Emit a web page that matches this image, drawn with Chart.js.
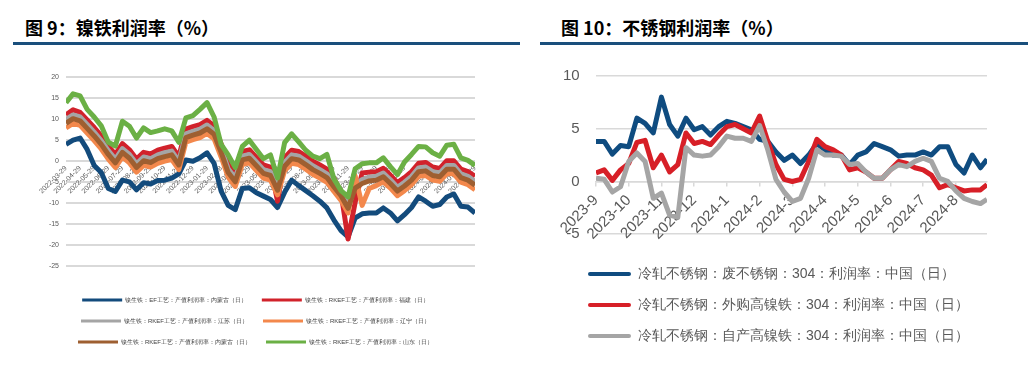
<!DOCTYPE html>
<html>
<head>
<meta charset="utf-8">
<script src="https://cdn.jsdelivr.net/npm/chart.js@4.4.1/dist/chart.umd.min.js"></script>
<style>
  body { margin: 0; width: 1028px; height: 368px; background: #fff; position: relative; overflow: hidden; font-family: "Noto Sans CJK SC", sans-serif; }
  .title { position: absolute; top: 14px; font-size: 18px; font-weight: bold; color: #000; white-space: nowrap; }
  .bar { position: absolute; top: 42px; height: 3px; background: #1a4f7c; }
  .box { position: absolute; }
</style>
</head>
<body>
<div class="title" style="left:25px">图 9：镍铁利润率（%）</div>
<div class="bar" style="left:13px;width:507px"></div>
<div class="title" style="left:561px">图 10：不锈钢利润率（%）</div>
<div class="bar" style="left:540px;width:488px"></div>
<div class="box" style="left:0;top:50px;width:510px;height:318px"><canvas id="chartNiFe"></canvas></div>
<div class="box" style="left:540px;top:55px;width:488px;height:313px"><canvas id="chartSS"></canvas></div>
<script>
// 图9 镍铁利润率 —— x 为月序号（0 = 2022-03-29），每半个月取一个值
const leftX = [0, 0.5, 1, 1.5, 2, 2.5, 3, 3.5, 4, 4.5, 5, 5.5, 6, 6.5, 7, 7.5, 8, 8.5, 9, 9.5,
  10, 10.5, 11, 11.5, 12, 12.5, 13, 13.5, 14, 14.5, 15, 15.5, 16, 16.5, 17, 17.5, 18, 18.5, 19, 19.5,
  20, 20.5, 21, 21.5, 22, 22.5, 23, 23.5, 24, 24.5, 25, 25.5, 26, 26.5, 27, 27.5, 28, 28.5, 29];
const leftLabels = ['2022-03-29', '2022-04-29', '2022-05-29', '2022-06-29', '2022-07-29', '2022-08-29',
  '2022-09-29', '2022-10-29', '2022-11-29', '2022-12-29', '2023-01-29', '2023-02-28', '2023-03-29',
  '2023-04-29', '2023-05-29', '2023-06-29', '2023-07-29', '2023-08-29', '2023-09-29', '2023-10-29',
  '2023-11-29', '2023-12-29', '2024-01-29', '2024-02-29', '2024-03-29', '2024-04-29', '2024-05-29',
  '2024-06-29', '2024-07-29', '2024-08-29'];

const efNeimenggu = [4.0, 5.0, 5.5, 2.8, -1.0, -2.7, -6.5, -7.2, -4.5, -4.9,
  -6.8, -5.1, -5.4, -4.6, -4.5, -4.0, -3.0, 0.3, 0.0, 0.8,
  2.0, -0.5, -7.1, -10.5, -11.5, -6.5, -6.3, -7.5, -8.3, -9.1,
  -11.0, -7.4, -4.5, -5.8, -7.0, -8.2, -9.5, -11.1, -14.0, -16.5,
  -18.0, -13.5, -12.5, -12.3, -12.3, -11.1, -12.3, -14.2, -12.7, -11.0,
  -8.5, -9.5, -10.7, -10.3, -8.5, -7.8, -10.7, -10.9, -12.3];
const rkefFujian = [11.0, 12.2, 11.6, 9.8, 8.0, 6.0, 3.6, 1.6, 4.2, 2.7,
  0.5, 2.1, 1.7, 2.6, 3.1, 3.5, 1.1, 7.6, 8.2, 8.7,
  9.7, 8.4, 4.1, -0.7, -2.9, 2.3, 2.7, 0.9, -0.9, -1.4,
  -9.5, 0.8, 2.6, 2.3, 1.2, 0.0, -0.9, -1.9, -4.1, -7.5,
  -18.5, -9.8, -2.8, -2.6, -2.5, -1.7, -3.3, -5.1, -3.9, -2.5,
  -0.5, -0.3, -1.4, -1.7, 0.1, 0.1, -1.9, -2.5, -3.6];
const rkefJiangsu = [9.9, 11.0, 10.5, 8.7, 6.9, 4.9, 2.5, 0.5, 3.0, 1.6,
  -0.6, 1.0, 0.6, 1.5, 2.0, 2.4, 0.0, 6.5, 7.1, 7.6,
  8.6, 7.3, 3.0, -1.8, -4.0, 1.2, 1.6, -0.2, -2.0, -2.5,
  -6.0, -0.3, 1.5, 1.2, 0.1, -1.1, -2.0, -3.0, -5.2, -7.3,
  -10.3, -5.5, -4.4, -3.8, -3.6, -2.8, -4.4, -6.2, -5.0, -3.6,
  -1.6, -1.4, -2.5, -2.8, -1.0, -1.0, -3.0, -3.6, -4.8];
const rkefLiaoning = [7.9, 9.0, 8.5, 6.7, 4.9, 2.9, 0.5, -1.5, 1.0, -0.4,
  -2.6, -1.0, -1.4, -0.5, 0.0, 0.4, -2.0, 4.5, 5.1, 5.6,
  6.6, 5.3, 1.0, -3.8, -6.0, -0.8, -0.4, -2.2, -4.0, -4.5,
  -8.0, -2.3, -0.5, -0.8, -1.9, -3.1, -4.0, -5.0, -7.2, -9.3,
  -12.3, -3.5, -10.5, -6.5, -5.8, -4.9, -6.4, -8.2, -7.0, -5.6,
  -3.6, -3.4, -4.5, -4.8, -3.0, -3.0, -5.0, -5.6, -6.8];
const rkefNeimenggu = [9.0, 10.1, 9.6, 7.8, 6.0, 4.0, 1.6, -0.4, 2.1, 0.7,
  -1.5, 0.1, -0.3, 0.6, 1.1, 1.5, -0.9, 5.6, 6.2, 6.7,
  7.7, 6.4, 2.1, -2.7, -4.9, 0.3, 0.7, -1.1, -2.9, -3.4,
  -6.9, -1.2, 0.6, 0.3, -0.8, -2.0, -2.9, -3.9, -6.1, -8.2,
  -11.2, -6.4, -5.3, -4.7, -4.5, -3.7, -5.3, -7.1, -5.9, -4.5,
  -2.5, -2.3, -3.4, -3.7, -1.9, -1.9, -3.9, -4.5, -5.7];
const rkefShandong = [13.9, 16.0, 15.5, 12.3, 10.5, 8.4, 4.5, 3.6, 9.5, 8.3,
  5.5, 7.9, 6.8, 7.2, 7.7, 7.2, 4.5, 10.3, 10.8, 12.3,
  13.9, 10.5, 4.0, 1.5, -1.5, 3.5, 5.0, 2.8, 0.6, 1.5,
  -4.0, 4.4, 6.5, 4.6, 2.6, 1.2, 0.6, 1.6, -4.2, -7.0,
  -8.5, -1.8, -0.6, -0.4, -0.4, 0.8, -1.3, -3.2, -0.2, 1.6,
  3.5, 3.4, 2.0, 1.2, 3.8, 4.0, 0.8, 0.2, -1.0];

// 图10 不锈钢利润率 —— x 为月序号（0 = 2023-9），每 1/4 月取一个值
const rightX = [0, 0.25, 0.5, 0.75, 1, 1.25, 1.5, 1.75, 2, 2.25, 2.5, 2.75,
  3, 3.25, 3.5, 3.75, 4, 4.25, 4.5, 4.75, 5, 5.25, 5.5, 5.75,
  6, 6.25, 6.5, 6.75, 7, 7.25, 7.5, 7.75, 8, 8.25, 8.5, 8.75,
  9, 9.25, 9.5, 9.75, 10, 10.25, 10.5, 10.75, 11, 11.25, 11.5, 11.75, 11.95];
const rightLabels = ['2023-9', '2023-10', '2023-11', '2023-12', '2024-1', '2024-2',
  '2024-3', '2024-4', '2024-5', '2024-6', '2024-7', '2024-8'];

const feiBuxiu = [3.8, 3.8, 2.6, 3.4, 3.3, 6.0, 5.5, 4.6, 8.0, 5.4, 4.3, 6.0,
  4.9, 5.2, 4.4, 5.2, 5.7, 5.5, 5.2, 4.9, 4.0, 3.8, 2.8, 2.0,
  2.5, 1.7, 2.5, 3.6, 3.0, 2.5, 2.5, 1.6, 2.5, 2.8, 3.6, 3.3,
  3.0, 2.4, 2.5, 2.5, 2.8, 2.5, 3.3, 3.3, 1.6, 0.8, 2.5, 1.3, 2.1];
const waigouNiFe = [0.8, 1.1, 0.1, 1.1, 1.7, 3.7, 3.9, 1.3, 2.5, 0.9, 1.6, 4.6,
  3.6, 3.8, 3.5, 4.4, 5.2, 5.4, 5.0, 4.6, 6.2, 3.8, 1.6, 0.2,
  0.0, 0.2, 1.9, 4.0, 3.3, 3.0, 2.5, 1.1, 1.3, 0.9, 0.3, 0.3,
  1.1, 1.9, 1.7, 1.3, 1.1, 0.6, -0.6, -0.3, -0.6, -0.9, -0.8, -0.8, -0.3];
const zichanNiFe = [0.3, 0.2, -1.0, -0.5, 1.9, 2.7, 1.9, -1.6, -1.1, -3.2, -3.4, 3.2,
  2.5, 2.4, 2.5, 3.3, 4.3, 4.1, 4.1, 3.8, 5.3, 3.0, 0.2, -1.0,
  -1.9, -1.6, 0.3, 3.0, 2.5, 2.5, 2.4, 1.6, 1.7, 0.9, 0.3, 0.3,
  1.1, 1.6, 1.4, 1.9, 2.2, 1.9, 0.3, 0.0, -0.9, -1.6, -1.9, -2.1, -1.7];

function serie(label, xs, ys, color, order, width) {
  return {
    label: label,
    data: xs.map((x, i) => ({ x: x, y: ys[i] })),
    borderColor: color,
    backgroundColor: color,
    borderWidth: width,
    pointRadius: 0,
    tension: 0,
    borderJoinStyle: 'round',
    order: order
  };
}

// leyenda con barras finas en vez de cajas
function lineLabels(chart) {
  return Chart.defaults.plugins.legend.labels.generateLabels(chart).map(l => {
    l.lineWidth = 0;
    l.fillStyle = l.strokeStyle;
    return l;
  });
}

const gris = '#595959';

new Chart(document.getElementById('chartNiFe'), {
  type: 'line',
  data: {
    datasets: [
      serie('镍生铁：EF工艺：产值利润率：内蒙古（日）', leftX, efNeimenggu, '#134b7c', 6, 5),
      serie('镍生铁：RKEF工艺：产值利润率：福建（日）', leftX, rkefFujian, '#d1222b', 5, 5),
      serie('镍生铁：RKEF工艺：产值利润率：江苏（日）', leftX, rkefJiangsu, '#a5a5a5', 4, 5),
      serie('镍生铁：RKEF工艺：产值利润率：辽宁（日）', leftX, rkefLiaoning, '#f3884c', 3, 5),
      serie('镍生铁：RKEF工艺：产值利润率：内蒙古（日）', leftX, rkefNeimenggu, '#9e5f31', 2, 5),
      serie('镍生铁：RKEF工艺：产值利润率：山东（日）', leftX, rkefShandong, '#6bb045', 1, 5)
    ]
  },
  options: {
    responsive: true,
    maintainAspectRatio: false,
    animation: false,
    layout: { padding: { left: 36, right: 35, top: 27, bottom: 13 } },
    scales: {
      x: {
        type: 'linear', min: 0, max: 29, position: { y: 0 },
        grid: { display: false, drawTicks: false },
        border: { display: false },
        ticks: {
          stepSize: 1, autoSkip: false, maxRotation: 45, minRotation: 45, padding: 3,
          font: { size: 7 }, color: gris,
          callback: v => leftLabels[Math.round(v)]
        }
      },
      y: {
        // el eje llega algo por debajo de -25 para dejar hueco hasta la leyenda
        min: -28.7, max: 20,
        afterFit: s => { s.width = 30; },
        grid: { color: '#d9d9d9', lineWidth: 2, drawTicks: false },
        border: { display: false },
        ticks: { stepSize: 5, includeBounds: false, padding: 7, font: { size: 7 }, color: gris }
      }
    },
    plugins: {
      legend: {
        position: 'bottom',
        labels: {
          boxWidth: 40, boxHeight: 3, padding: 15, color: '#404040', font: { size: 6 },
          generateLabels: lineLabels,
          sort: (a, b) => a.datasetIndex - b.datasetIndex
        }
      },
      tooltip: { enabled: false }
    }
  }
});

new Chart(document.getElementById('chartSS'), {
  type: 'line',
  data: {
    datasets: [
      serie('冷轧不锈钢：废不锈钢：304：利润率：中国（日）', rightX, feiBuxiu, '#0f4c80', 3, 5),
      serie('冷轧不锈钢：外购高镍铁：304：利润率：中国（日）', rightX, waigouNiFe, '#d71f27', 2, 5),
      serie('冷轧不锈钢：自产高镍铁：304：利润率：中国（日）', rightX, zichanNiFe, '#a5a5a5', 1, 5)
    ]
  },
  options: {
    responsive: true,
    maintainAspectRatio: false,
    animation: false,
    layout: { padding: { left: 31, right: 41, top: 21, bottom: 15 } },
    scales: {
      x: {
        type: 'linear', min: 0, max: 11.95, position: { y: 0 },
        grid: { drawOnChartArea: false, drawTicks: true, tickLength: 4, color: '#d9d9d9', lineWidth: 1.5 },
        border: { display: true, color: '#d9d9d9', width: 1.5 },
        ticks: {
          stepSize: 1, includeBounds: false, autoSkip: false, maxRotation: 45, minRotation: 45, padding: 6,
          font: { size: 15 }, color: gris,
          callback: v => rightLabels[Math.round(v)]
        }
      },
      y: {
        min: -6.5, max: 10,
        afterFit: s => { s.width = 25; },
        grid: { color: '#d9d9d9', lineWidth: 1.5, drawTicks: false },
        border: { display: false },
        // mirror + padding negativo: las etiquetas quedan a la izquierda sin recortarse
        ticks: { stepSize: 5, includeBounds: false, mirror: true, crossAlign: 'far', padding: -33, font: { size: 15 }, color: gris }
      }
    },
    plugins: {
      legend: {
        position: 'bottom',
        align: 'start',
        labels: {
          boxWidth: 43, boxHeight: 4, padding: 17, color: gris, font: { size: 14 },
          useBorderRadius: true, borderRadius: 2,
          generateLabels: lineLabels,
          sort: (a, b) => a.datasetIndex - b.datasetIndex
        }
      },
      tooltip: { enabled: false }
    }
  }
});
</script>
</body>
</html>
